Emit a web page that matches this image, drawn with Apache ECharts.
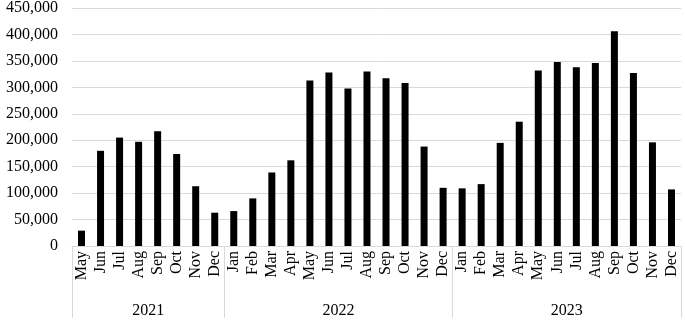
<!DOCTYPE html>
<html><head><meta charset="utf-8">
<script src="https://cdn.jsdelivr.net/npm/echarts@6/dist/echarts.min.js"></script>
<style>html,body{margin:0;padding:0;background:#fff}#c{width:685px;height:322px}</style>
</head><body><div id="c"></div>
<script>
const months = ['May','Jun','Jul','Aug','Sep','Oct','Nov','Dec',
  'Jan','Feb','Mar','Apr','May','Jun','Jul','Aug','Sep','Oct','Nov','Dec',
  'Jan','Feb','Mar','Apr','May','Jun','Jul','Aug','Sep','Oct','Nov','Dec'];
const years = ['2021','2022','2023'];
const yearCounts = [8, 12, 12];
const values = [29000,180000,205000,197000,217000,174000,113000,63000,
  66000,90000,139000,162000,313000,328000,298000,330000,317000,308000,188000,110000,
  109000,117000,195000,235000,332000,348000,338000,346000,406000,327000,196000,107000];
const yTicks = [0,50000,100000,150000,200000,250000,300000,350000,400000,450000];

// group boundaries and centers derived from counts
const bounds = [0]; yearCounts.forEach(c => bounds.push(bounds[bounds.length-1] + c));
const centers = yearCounts.map((c,i) => bounds[i] + c/2);
const font = 'Liberation Serif, Times New Roman, serif';

const chart = echarts.init(document.getElementById('c'));
chart.setOption({
  animation: false,
  grid: {left: 72, right: 4, top: 7, bottom: 76, containLabel: false},
  xAxis: [{
    type: 'category', data: months, position: 'bottom',
    axisLine: {show: true, lineStyle: {color: '#d9d9d9', width: 1}},
    axisTick: {show: false},
    axisLabel: {rotate: 90, interval: 0, margin: 5, color: '#000', fontFamily: font, fontSize: 16}
  }, {
    type: 'value', min: 0, max: bounds[bounds.length-1], position: 'bottom',
    axisLine: {show: false}, splitLine: {show: false},
    axisTick: {show: true, customValues: bounds, length: 72, lineStyle: {color: '#d9d9d9', width: 1}},
    axisLabel: {show: true, customValues: centers, margin: 57, color: '#000', fontFamily: font, fontSize: 16,
      formatter: v => { const i = centers.indexOf(v); return i >= 0 ? years[i] : ''; }}
  }],
  yAxis: {
    type: 'value', min: yTicks[0], max: yTicks[yTicks.length-1], interval: yTicks[1]-yTicks[0],
    axisLine: {show: false}, axisTick: {show: false},
    splitLine: {lineStyle: {color: '#d9d9d9', width: 1}},
    axisLabel: {margin: 14, color: '#000', fontFamily: font, fontSize: 16,
      formatter: v => v.toLocaleString('en-US')}
  },
  series: [{type: 'bar', data: values, barWidth: 7, itemStyle: {color: '#000'}, xAxisIndex: 0}]
});
</script></body></html>
